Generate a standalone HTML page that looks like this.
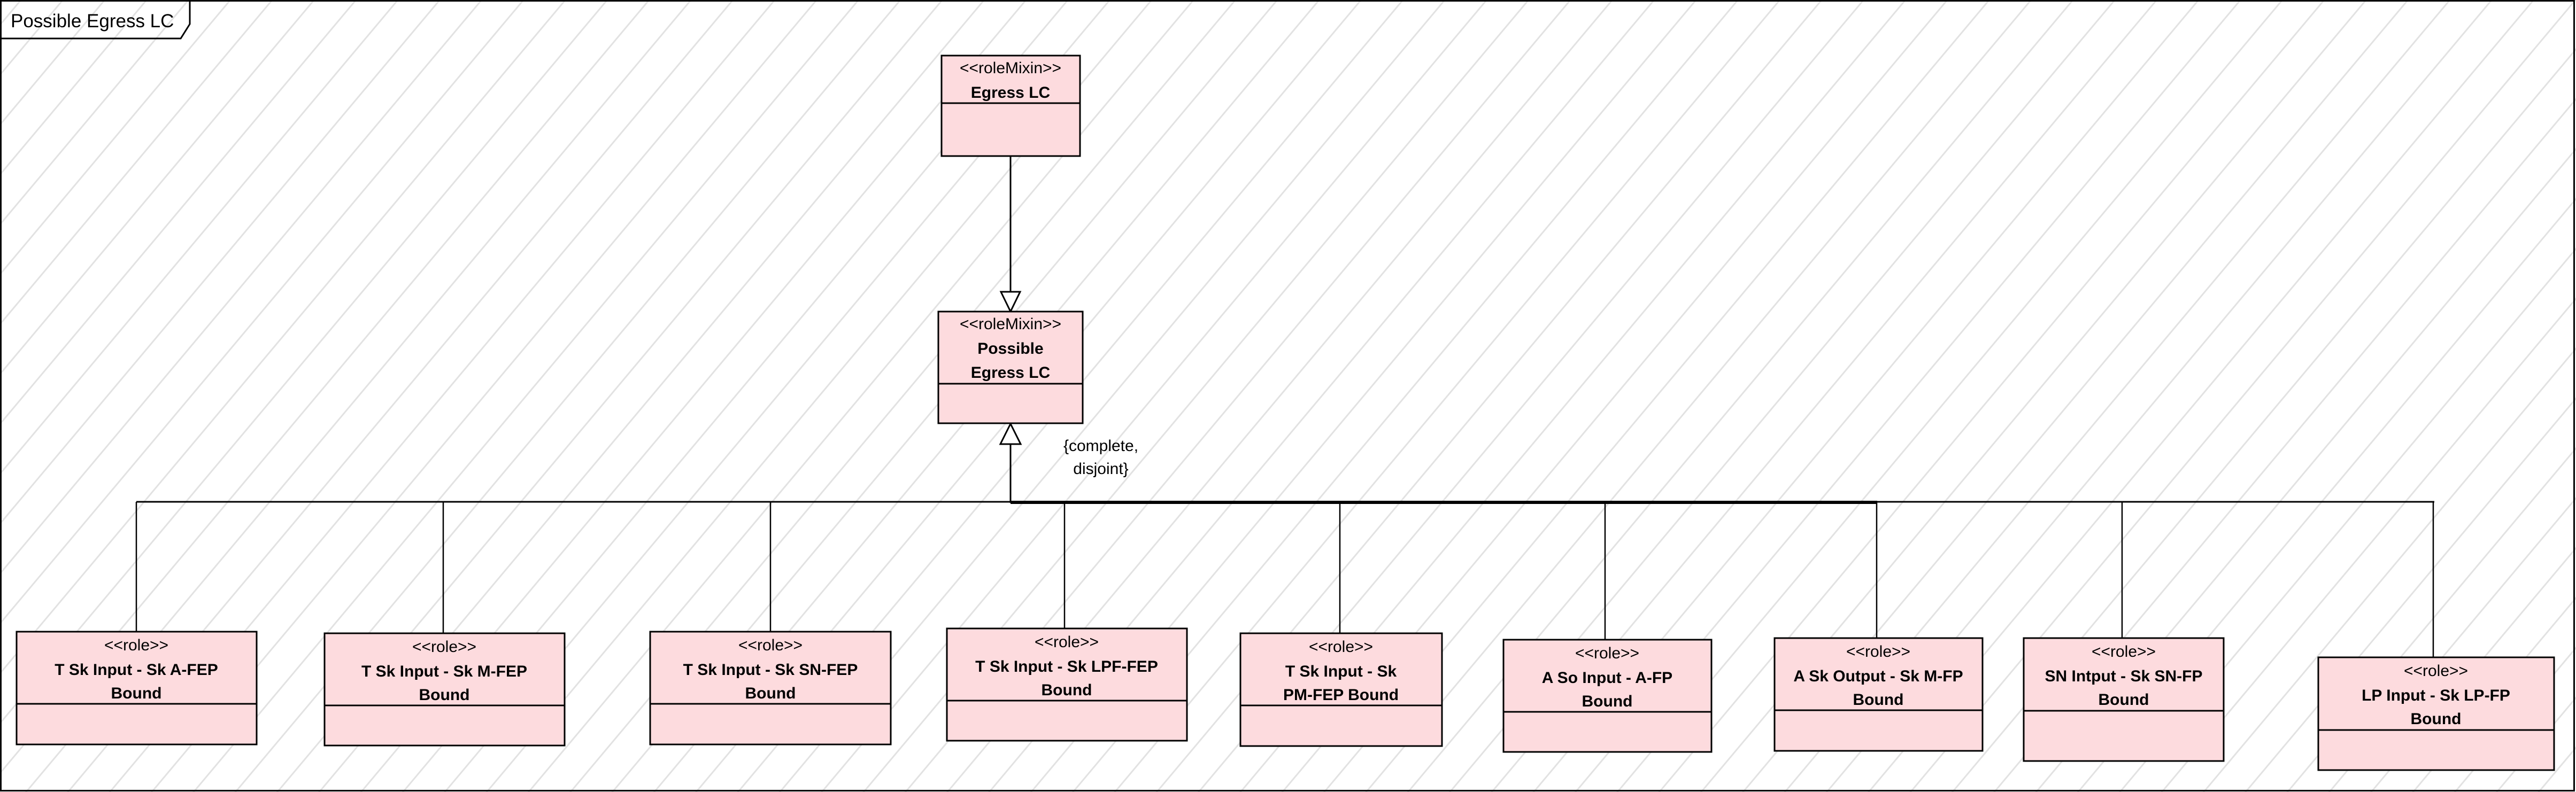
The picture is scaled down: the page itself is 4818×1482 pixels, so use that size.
<!DOCTYPE html>
<html><head><meta charset="utf-8"><style>
html,body{margin:0;padding:0;background:#fff;}
svg{display:block;}
text{font-family:"Liberation Sans",Arial,sans-serif;font-size:30px;fill:#000;}
.b{font-weight:bold;}
</style></head><body>
<svg width="4818" height="1482" viewBox="0 0 4818 1482" xmlns="http://www.w3.org/2000/svg">
<defs>
<pattern id="wm" width="60" height="60" patternUnits="userSpaceOnUse" patternTransform="rotate(-50)">
<line x1="0" y1="30" x2="60" y2="30" stroke="#e2e2e2" stroke-width="3"/>
</pattern>
</defs>
<rect x="0" y="0" width="4818" height="1482" fill="#fff"/>
<rect x="0" y="0" width="4818" height="1482" fill="url(#wm)"/>
<!-- frame -->
<rect x="1.5" y="1.5" width="4813" height="1478" fill="none" stroke="#000" stroke-width="3"/>
<path d="M1.5 72 L338 72 L355 45 L355 1.5" fill="none" stroke="#000" stroke-width="3"/>
<text x="20" y="51" style="font-size:35px">Possible Egress LC</text>

<g stroke="#000" fill="none">
<!-- top connector -->
<line x1="1890" y1="292" x2="1890" y2="546" stroke-width="3"/>
<polygon points="1872,546 1908,546 1890,583" fill="#fff" stroke-width="3"/>
<!-- generalization set -->
<line x1="1890" y1="831" x2="1890" y2="941" stroke-width="3"/>
<polygon points="1890,793 1871,831 1909,831" fill="#fff" stroke-width="3"/>
<line x1="255" y1="939" x2="4553" y2="939" stroke-width="3"/>
<line x1="1890" y1="940" x2="3511" y2="940" stroke-width="6"/>
<line x1="255" y1="939" x2="255" y2="1182" stroke-width="2.5"/>
<line x1="829" y1="939" x2="829" y2="1185" stroke-width="2.5"/>
<line x1="1441" y1="939" x2="1441" y2="1182" stroke-width="2.5"/>
<line x1="1991" y1="939" x2="1991" y2="1176" stroke-width="2.5"/>
<line x1="2506" y1="939" x2="2506" y2="1185" stroke-width="2.5"/>
<line x1="3002" y1="939" x2="3002" y2="1197" stroke-width="2.5"/>
<line x1="3510" y1="939" x2="3510" y2="1194" stroke-width="2.5"/>
<line x1="3969" y1="939" x2="3969" y2="1194" stroke-width="2.5"/>
<line x1="4551" y1="939" x2="4551" y2="1230" stroke-width="2.5"/>
</g>
<text x="2059" y="844" text-anchor="middle">{complete,</text>
<text x="2059" y="887" text-anchor="middle">disjoint}</text>

<g stroke="#000" stroke-width="3" fill="#fddbde">
<rect x="1761" y="104" width="259" height="188"/>
<line x1="1761" y1="193" x2="2020" y2="193"/>
<rect x="1755" y="583" width="270" height="209"/>
<line x1="1755" y1="718" x2="2025" y2="718"/>
<rect x="31" y="1182" width="449" height="211"/><line x1="31" y1="1317" x2="480" y2="1317"/>
<rect x="607" y="1185" width="449" height="210"/><line x1="607" y1="1320" x2="1056" y2="1320"/>
<rect x="1216" y="1182" width="450" height="211"/><line x1="1216" y1="1317" x2="1666" y2="1317"/>
<rect x="1771" y="1176" width="449" height="210"/><line x1="1771" y1="1311" x2="2220" y2="1311"/>
<rect x="2320" y="1185" width="377" height="211"/><line x1="2320" y1="1320" x2="2697" y2="1320"/>
<rect x="2812" y="1197" width="389" height="210"/><line x1="2812" y1="1332" x2="3201" y2="1332"/>
<rect x="3319" y="1194" width="389" height="211"/><line x1="3319" y1="1329" x2="3708" y2="1329"/>
<rect x="3785" y="1194" width="374" height="230"/><line x1="3785" y1="1330" x2="4159" y2="1330"/>
<rect x="4336" y="1230" width="441" height="211"/><line x1="4336" y1="1366" x2="4777" y2="1366"/>
</g>

<g text-anchor="middle">
<text x="1890" y="137">&lt;&lt;roleMixin&gt;&gt;</text>
<text x="1890" y="183" class="b">Egress LC</text>
<text x="1890" y="616">&lt;&lt;roleMixin&gt;&gt;</text>
<text x="1890" y="662" class="b">Possible</text>
<text x="1890" y="707" class="b">Egress LC</text>

<text x="255" y="1217">&lt;&lt;role&gt;&gt;</text>
<text x="255" y="1263" class="b">T Sk Input - Sk A-FEP</text>
<text x="255" y="1307" class="b">Bound</text>

<text x="831" y="1220">&lt;&lt;role&gt;&gt;</text>
<text x="831" y="1266" class="b">T Sk Input - Sk M-FEP</text>
<text x="831" y="1310" class="b">Bound</text>

<text x="1441" y="1217">&lt;&lt;role&gt;&gt;</text>
<text x="1441" y="1263" class="b">T Sk Input - Sk SN-FEP</text>
<text x="1441" y="1307" class="b">Bound</text>

<text x="1995" y="1211">&lt;&lt;role&gt;&gt;</text>
<text x="1995" y="1257" class="b">T Sk Input - Sk LPF-FEP</text>
<text x="1995" y="1301" class="b">Bound</text>

<text x="2508" y="1220">&lt;&lt;role&gt;&gt;</text>
<text x="2508" y="1266" class="b">T Sk Input - Sk</text>
<text x="2508" y="1310" class="b">PM-FEP Bound</text>

<text x="3006" y="1232">&lt;&lt;role&gt;&gt;</text>
<text x="3006" y="1278" class="b">A So Input - A-FP</text>
<text x="3006" y="1322" class="b">Bound</text>

<text x="3513" y="1229">&lt;&lt;role&gt;&gt;</text>
<text x="3513" y="1275" class="b">A Sk Output - Sk M-FP</text>
<text x="3513" y="1319" class="b">Bound</text>

<text x="3972" y="1229">&lt;&lt;role&gt;&gt;</text>
<text x="3972" y="1275" class="b">SN Intput - Sk SN-FP</text>
<text x="3972" y="1319" class="b">Bound</text>

<text x="4556" y="1265">&lt;&lt;role&gt;&gt;</text>
<text x="4556" y="1311" class="b">LP Input - Sk LP-FP</text>
<text x="4556" y="1355" class="b">Bound</text>
</g>
</svg>
</body></html>
